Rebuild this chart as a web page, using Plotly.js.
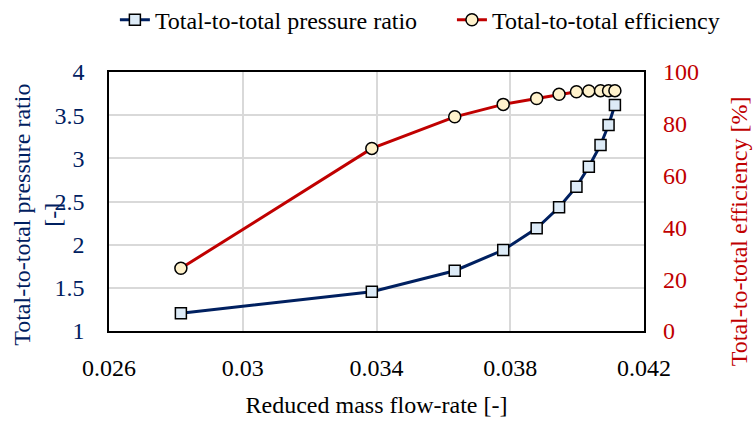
<!DOCTYPE html>
<html>
<head>
<meta charset="utf-8">
<script src="https://cdn.plot.ly/plotly-3.0.1.min.js"></script>
<style>html,body{margin:0;padding:0;background:#fff;}#chart{width:756px;height:423px;}</style>
</head>
<body>
<div id="chart"></div>
<script>
var massFlow = [0.02815, 0.03386, 0.03634, 0.03779, 0.03879, 0.03946, 0.03998, 0.04035, 0.04070, 0.04094, 0.04113];
var pressureRatio = [1.205, 1.455, 1.698, 1.938, 2.190, 2.433, 2.672, 2.903, 3.155, 3.386, 3.618];
var efficiency = [24.2, 70.5, 82.7, 87.5, 89.8, 91.4, 92.4, 92.7, 92.8, 92.8, 92.8];
var seriesNames = ['Total-to-total pressure ratio', 'Total-to-total efficiency'];
var xTitle = 'Reduced mass flow-rate [-]';
var yTitleLeft = 'Total-to-total pressure ratio<br>[-]';
var yTitleRight = 'Total-to-total efficiency [%]';

var blue = '#002060', red = '#C00000';
var fontFam = 'Liberation Serif';

var traces = [
  {x: massFlow, y: pressureRatio, name: seriesNames[0], type: 'scatter', mode: 'lines+markers', legend: 'legend',
   line: {color: blue, width: 3}, marker: {symbol: 'square', size: 11, color: '#DDEBF7', line: {color: '#000', width: 1.5}}},
  {x: massFlow, y: efficiency, name: seriesNames[1], type: 'scatter', mode: 'lines+markers', yaxis: 'y2', legend: 'legend2',
   line: {color: red, width: 3}, marker: {symbol: 'circle', size: 12, color: '#FFF2CC', line: {color: '#000', width: 1.5}}}
];

var legendFont = {family: fontFam, size: 24, color: '#000'};

var layout = {
  width: 756, height: 423,
  margin: {l: 109, r: 112, t: 72, b: 92, autoexpand: false},
  paper_bgcolor: '#fff', plot_bgcolor: '#fff',
  font: {family: fontFam, size: 22},
  showlegend: true,
  legend: {orientation: 'h', x: 0.011, xanchor: 'left', y: 1.2, yanchor: 'middle', font: legendFont},
  legend2: {orientation: 'h', x: 0.641, xanchor: 'left', y: 1.2, yanchor: 'middle', font: legendFont},
  xaxis: {range: [0.026, 0.042], dtick: 0.004, tick0: 0.026, showgrid: true, gridcolor: '#D9D9D9', gridwidth: 1.5,
          showline: true, linecolor: '#000', linewidth: 1.5, mirror: true, zeroline: false, ticks: '',
          ticklabelstandoff: 14, tickfont: {family: fontFam, size: 24, color: '#000'},
          title: {text: xTitle, font: {family: fontFam, size: 24, color: '#000'}, standoff: 17}},
  yaxis: {range: [1, 4], dtick: 0.5, showgrid: true, gridcolor: '#D9D9D9', gridwidth: 1.5,
          showline: true, linecolor: '#000', linewidth: 1.5, mirror: true, zeroline: false, ticks: '',
          ticklabelstandoff: 18, tickfont: {family: fontFam, size: 24, color: blue}},
  yaxis2: {range: [0, 100], dtick: 20, overlaying: 'y', side: 'right', showgrid: false, zeroline: false,
           showline: false, ticks: '', ticklabelstandoff: 18, tickfont: {family: fontFam, size: 24, color: red}},
  annotations: [
    {text: yTitleLeft, xref: 'paper', yref: 'paper', x: -0.133, xanchor: 'center', y: 0.448, yanchor: 'middle',
     textangle: -90, showarrow: false, font: {family: fontFam, size: 24, color: blue}},
    {text: yTitleRight, xref: 'paper', yref: 'paper', x: 1.178, xanchor: 'center', y: 0.386, yanchor: 'middle',
     textangle: -90, showarrow: false, font: {family: fontFam, size: 24, color: red}}
  ]
};

Plotly.newPlot('chart', traces, layout, {displayModeBar: false});
</script>
</body>
</html>
